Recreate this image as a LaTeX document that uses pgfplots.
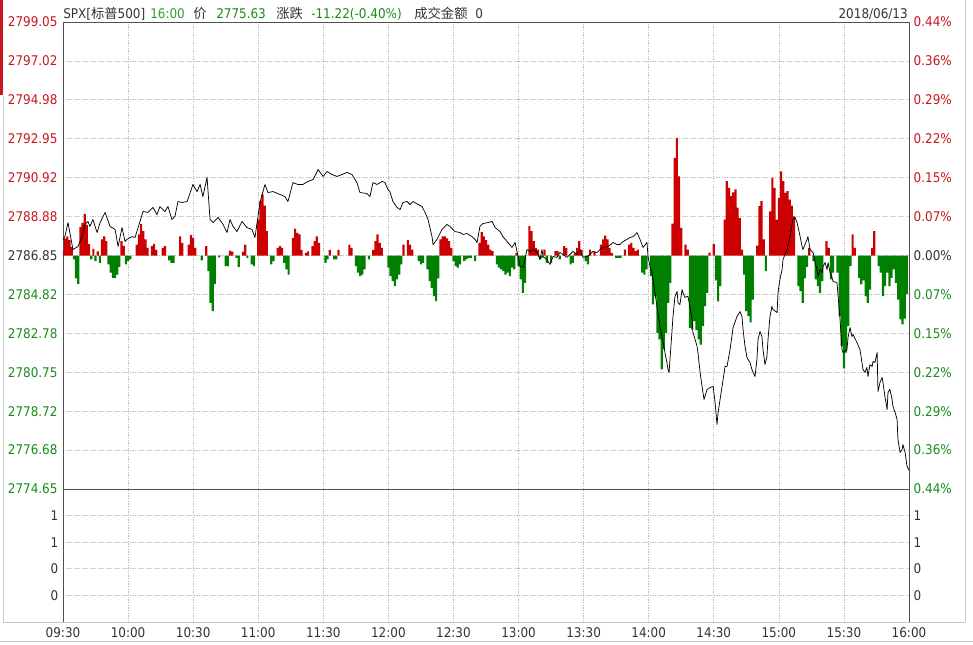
\documentclass[border=0pt]{standalone}
\usepackage{pgfplots}
\usepackage{pgfplotstable}
\pgfplotsset{compat=1.18}
\usepackage{fontspec}
\setmainfont{DejaVu Sans Condensed}
\newfontfamily\cjk{Noto Sans CJK SC}
\definecolor{cred}{HTML}{CC0000}
\definecolor{cgreen}{HTML}{008000}
\definecolor{tred}{HTML}{C8161E}
\definecolor{tgreen}{HTML}{1A8A1A}
\definecolor{hgreen}{HTML}{2E9E2E}
\definecolor{tdark}{HTML}{333333}
\definecolor{gridc}{HTML}{BEBEBE}
\definecolor{axc}{HTML}{505050}
\definecolor{framec}{HTML}{C8C8C8}

\pgfplotstableread{
m c
0 0.84
0.9 1.00
2.3 1.72
4.6 0.31
6.9 0.47
8.8 0.99
10.1 1.62
11.5 1.78
12.4 1.52
13.8 1.88
15.7 1.20
17.1 1.72
19.4 2.25
21.7 1.52
24.0 1.36
25.4 0.47
27.2 1.46
28.6 0.73
29.5 0.84
31.8 0.99
33.2 0.94
35.5 1.78
36.9 2.30
39.2 2.25
41.5 2.51
43.3 2.14
44.7 2.56
47.0 2.30
48.4 2.56
50.2 1.88
51.6 2.04
53.0 2.82
54.9 2.77
57.2 2.82
59.9 3.71
61.8 3.34
63.2 3.71
64.5 3.08
66.4 4.08
67.8 1.88
69.2 1.72
71.5 1.99
73.8 1.62
75.6 1.20
77.0 1.88
78.4 1.52
80.2 1.25
82.5 1.78
84.8 1.46
87.1 1.36
88.5 0.94
90.8 2.77
93.1 3.71
94.5 3.29
96.8 3.34
100.0 3.19
102.3 3.08
103.7 2.82
106.0 3.81
108.3 3.71
110.6 3.71
112.9 3.87
115.3 3.97
117.6 4.49
119.9 4.13
121.7 4.39
124.0 4.23
126.3 4.13
128.6 4.23
130.9 4.34
133.2 4.23
135.5 3.81
136.9 3.29
140.1 3.24
141.5 3.08
142.9 3.81
144.8 3.71
147.1 3.87
148.4 3.81
149.8 3.45
150.7 3.34
152.1 2.82
154.0 2.51
155.4 2.40
156.7 2.77
158.6 2.82
160.0 2.66
161.4 2.82
163.7 2.66
165.5 2.56
166.9 2.25
168.3 1.88
170.1 0.99
170.6 0.57
172.4 0.84
174.7 1.36
177.0 1.62
178.4 1.52
180.7 1.25
183.0 1.20
184.4 1.10
186.2 1.15
188.5 0.99
189.9 0.84
190.9 0.68
192.2 1.52
193.6 1.67
195.9 1.72
197.8 1.78
199.2 1.46
201.5 1.25
202.8 0.99
204.7 0.73
207.0 0.42
208.4 0.68
209.3 0.21
210.7 -0.57
212.1 -0.63
213.9 0.31
215.3 0.21
216.7 0.31
218.5 0.16
219.9 -0.21
220.8 0.31
221.3 -0.05
223.1 -0.21
224.5 -0.47
225.9 -0.05
227.7 -0.10
229.1 0.16
230.5 0.05
232.3 -0.10
233.7 0.05
235.1 0.21
237.0 0.05
238.3 0.31
239.7 -0.10
241.6 -0.05
242.9 0.05
244.3 0.21
246.2 0.16
247.6 0.31
248.9 0.42
251.2 0.47
253.6 0.68
255.4 0.57
256.8 0.57
258.2 0.73
260.0 0.84
261.4 0.94
262.8 0.99
264.6 1.20
266.0 0.84
267.4 0.42
269.2 0.68
269.7 -0.05
270.6 -0.57
271.5 -0.89
272.0 -1.25
273.8 -2.66
275.2 -3.71
276.1 -4.23
276.6 -4.49
277.5 -5.07
278.4 -5.59
278.9 -5.96
279.4 -6.11
279.8 -5.43
280.7 -4.02
281.2 -3.19
282.1 -2.14
283.1 -1.88
283.5 -2.46
284.4 -2.56
285.4 -1.78
285.8 -1.93
286.7 -2.19
287.7 -2.14
288.1 -2.14
289.0 -2.66
290.0 -3.34
290.4 -4.02
291.4 -4.39
292.3 -4.75
292.7 -5.07
293.7 -6.11
294.6 -6.84
295.5 -7.52
296.9 -7.00
298.3 -6.90
299.7 -6.84
300.6 -7.68
301.5 -8.83
302.0 -8.20
302.9 -7.52
304.3 -6.48
305.2 -5.80
306.1 -5.80
307.5 -4.91
308.9 -3.76
310.7 -3.19
312.1 -2.93
313.0 -3.19
313.5 -3.87
314.4 -4.75
315.3 -5.33
315.8 -5.43
316.7 -5.59
317.6 -5.96
318.1 -6.11
319.0 -6.32
319.9 -5.43
320.4 -4.39
321.3 -3.97
322.2 -4.23
322.7 -4.91
323.6 -5.70
324.5 -5.28
325.0 -4.39
325.9 -3.19
326.8 -2.66
327.3 -2.82
329.2 -2.98
329.6 -1.93
330.5 -1.25
331.5 -0.73
331.9 -0.21
333.8 0.31
335.1 0.99
336.5 1.88
337.5 1.99
338.4 1.72
339.8 0.99
340.7 0.47
341.1 0.31
343.0 0.84
343.4 0.99
344.4 0.31
345.8 0.16
346.7 -0.37
347.6 -0.73
348.1 -1.10
349.0 -0.73
349.9 -0.89
350.4 -0.57
351.3 -0.37
352.2 -0.73
352.7 -0.37
353.6 -0.89
354.5 -1.15
355.0 -1.36
356.8 -1.41
358.2 -3.34
359.1 -4.91
359.6 -5.07
361.4 -4.91
361.9 -4.28
362.8 -3.76
363.7 -4.23
364.2 -4.13
366.0 -4.55
367.4 -4.91
368.8 -5.96
369.7 -6.11
370.6 -5.85
371.1 -6.32
372.0 -5.70
373.0 -5.80
373.4 -5.54
374.3 -5.59
375.3 -5.07
375.7 -7.11
376.6 -6.64
377.6 -6.37
378.0 -6.64
378.9 -7.37
379.9 -8.05
380.3 -7.16
381.2 -7.00
382.2 -7.52
382.6 -7.89
383.6 -8.20
384.5 -8.57
384.9 -9.61
385.9 -10.29
386.8 -10.14
387.2 -9.88
388.2 -10.29
389.1 -11.02
390 -11.22
}\pricetab

\pgfplotstableread{
m v
0 0.3
1 0.9
2 1.0
3 0.8
4 0.45
8 1.5
9 1.7
10 2.18
11 1.6
12 0.6
14 0.35
16 0.22
18 0.84
19 1.0
20 0.75
27 0.75
28 0.5
34 0.57
35 1.1
36 1.65
37 1.27
38 0.84
39 0.4
41 0.49
42 0.61
43 0.3
46 0.4
47 0.49
54 1.0
55 0.66
58 0.57
59 1.06
60 0.92
61 0.4
66 0.49
77 0.26
78 0.2
83 0.2
84 0.57
90 1.88
91 2.84
92 3.2
93 2.6
94 1.27
99 0.4
100 0.49
101 0.4
106 0.92
107 1.4
108 1.18
109 1.1
110 0.3
112 0.14
113 0.22
115 0.49
116 0.75
117 1.0
118 0.66
123 0.3
127 0.3
132 0.57
133 0.4
143 0.3
144 0.75
145 1.1
146 0.66
147 0.4
157 0.57
159 0.8
160 0.57
161 0.31
174 0.84
175 1.0
176 1.0
177 0.9
178 0.75
179 0.4
192 0.66
193 1.22
194 1.0
195 0.8
196 0.57
197 0.31
198 0.23
209 0.14
215 1.53
216 1.27
217 0.75
218 0.4
219 0.31
222 0.31
227 0.23
228 0.23
231 0.49
232 0.4
236 0.14
237 0.4
238 0.75
239 0.31
243 0.31
245 0.2
248 0.57
249 0.84
250 1.04
251 0.84
252 0.4
253 0.14
259 0.31
261 0.57
262 0.66
263 0.4
264 0.23
265 0.31
281 1.67
282 5.1
283 6.14
284 4.14
285 1.44
287 0.57
288 0.31
298 0.15
300 0.6
305 1.88
306 3.88
307 3.53
308 3.1
309 3.3
310 3.45
311 2.5
312 1.97
313 0.31
320 0.52
321 2.58
322 2.84
323 0.84
326 2.31
327 4.05
328 3.53
329 1.88
330 3.0
331 4.4
332 3.88
333 3.27
334 3.36
335 2.92
336 2.6
337 2.05
344 0.4
352 0.75
353 0.4
364 1.1
365 0.4
373 0.4
374 1.27
}\redtab

\pgfplotstableread{
m v
5 -0.2
6 -1.2
7 -1.48
13 -0.2
15 -0.3
17 -0.38
21 -0.47
22 -0.9
23 -1.17
24 -1.17
25 -1.0
26 -0.6
29 -0.47
30 -0.3
31 -0.2
49 -0.26
50 -0.38
51 -0.38
64 -0.26
67 -0.82
68 -2.47
69 -2.9
70 -1.5
72 -0.1
75 -0.55
76 -0.55
80 -0.12
81 -0.6
85 -0.12
87 -0.47
88 -0.55
96 -0.47
97 -0.3
102 -0.38
103 -0.73
104 -1.0
121 -0.38
122 -0.2
125 -0.2
126 -0.2
135 -0.55
136 -0.9
137 -1.08
138 -1.0
139 -0.73
141 -0.2
150 -0.64
151 -1.08
152 -1.34
153 -1.6
154 -1.25
155 -1.0
156 -0.47
164 -0.3
165 -0.47
166 -0.38
168 -0.73
169 -1.34
170 -1.69
171 -2.12
172 -2.38
173 -1.2
180 -0.3
181 -0.56
182 -0.64
183 -0.47
185 -0.3
186 -0.2
187 -0.12
188 -0.12
190 -0.3
200 -0.47
201 -0.64
202 -0.73
203 -0.82
204 -1.0
205 -0.9
206 -1.08
207 -0.64
208 -0.73
210 -0.56
211 -1.25
212 -1.95
213 -1.43
220 -0.2
221 -0.12
223 -0.38
225 -0.38
229 -0.2
234 -0.47
235 -0.38
241 -0.3
242 -0.47
255 -0.12
256 -0.12
257 -0.12
267 -0.9
268 -1.0
269 -0.73
271 -1.08
272 -2.56
273 -2.12
274 -4.04
275 -4.38
276 -5.95
277 -4.9
278 -4.04
279 -2.47
280 -1.43
289 -3.78
290 -3.86
291 -3.43
292 -3.9
293 -4.38
294 -4.65
295 -3.69
296 -2.64
297 -1.95
301 -1.3
302 -2.4
303 -1.6
314 -1.0
315 -2.9
316 -3.17
317 -3.5
318 -2.3
324 -0.82
339 -1.6
340 -1.86
341 -2.47
342 -1.2
343 -0.6
346 -0.3
347 -1.25
348 -1.6
349 -1.95
350 -1.34
354 -1.25
355 -0.9
357 -0.9
358 -3.17
359 -4.73
360 -5.9
361 -5.08
362 -3.69
363 -0.56
367 -1.17
368 -1.51
369 -1.3
370 -2.12
371 -2.47
372 -1.78
376 -0.56
377 -0.9
378 -2.12
379 -1.6
380 -0.9
381 -1.6
382 -1.17
383 -0.73
384 -1.43
385 -2.3
386 -3.34
387 -3.6
388 -3.3
389 -2.0
}\greentab

\begin{document}
\begin{tikzpicture}
\useasboundingbox (0,0) rectangle (729.75pt,483pt);
\pgfplotsset{
  chartbase/.style={
    scale only axis, width=634.5pt, anchor=south west,
    xmin=0, xmax=390,
    xtick={0,30,...,390},
    major tick length=0pt,
    grid=major,
    grid style={gridc, dash pattern=on 1pt off 1pt, line width=0.5pt},
    axis line style={axc, line width=0.6pt},
    tick label style={font=\fontsize{10}{12}\selectfont, text=tdark},
  }
}
% upper panel
\begin{axis}[chartbase, at={(47.25pt,116.25pt)}, height=350.25pt,
  ymin=-12.2, ymax=12.2,
  xticklabels={},
  ytick={-12.2,-10.16667,-8.13333,-6.1,-4.06667,-2.03333,0,2.03333,4.06667,6.1,8.13333,10.16667,12.2},
  yticklabels={{\textcolor{tgreen}{2774.65}},{\textcolor{tgreen}{2776.68}},{\textcolor{tgreen}{2778.72}},{\textcolor{tgreen}{2780.75}},{\textcolor{tgreen}{2782.78}},{\textcolor{tgreen}{2784.82}},{\textcolor{tdark}{2786.85}},{\textcolor{tred}{2788.88}},{\textcolor{tred}{2790.92}},{\textcolor{tred}{2792.95}},{\textcolor{tred}{2794.98}},{\textcolor{tred}{2797.02}},{\textcolor{tred}{2799.05}}},
  yticklabel style={xshift=-0.6pt},
]
\addplot[ybar, bar shift=0pt, bar width=1.0, fill=cred, draw=none] table[x=m,y=v]{\redtab};
\addplot[ybar, bar shift=0pt, bar width=1.0, fill=cgreen, draw=none] table[x=m,y=v]{\greentab};
\addplot[black, line width=0.55pt, line join=round] table[x=m,y=c]{\pricetab};
\end{axis}
% right-side percent labels
\begin{axis}[scale only axis, width=634.5pt, height=350.25pt, anchor=south west, at={(47.25pt,116.25pt)},
  xmin=0, xmax=390, ymin=-12.2, ymax=12.2,
  axis y line*=right, axis x line=none,
  major tick length=0pt,
  axis line style={axc, line width=0.6pt},
  tick label style={font=\fontsize{10}{12}\selectfont},
  ytick={-12.2,-10.16667,-8.13333,-6.1,-4.06667,-2.03333,0,2.03333,4.06667,6.1,8.13333,10.16667,12.2},
  yticklabels={{\textcolor{tgreen}{0.44\%}},{\textcolor{tgreen}{0.36\%}},{\textcolor{tgreen}{0.29\%}},{\textcolor{tgreen}{0.22\%}},{\textcolor{tgreen}{0.15\%}},{\textcolor{tgreen}{0.07\%}},{\textcolor{tdark}{0.00\%}},{\textcolor{tred}{0.07\%}},{\textcolor{tred}{0.15\%}},{\textcolor{tred}{0.22\%}},{\textcolor{tred}{0.29\%}},{\textcolor{tred}{0.36\%}},{\textcolor{tred}{0.44\%}}},
]
\end{axis}
% lower panel
\begin{axis}[chartbase, at={(47.25pt,16.5pt)}, height=99.75pt,
  ymin=0, ymax=5,
  ytick={1,2,3,4}, yticklabels={0,0,1,1},
  xticklabels={09:30,10:00,10:30,11:00,11:30,12:00,12:30,13:00,13:30,14:00,14:30,15:00,15:30,16:00},
  xticklabel style={yshift=-1pt},
]
\end{axis}
\begin{axis}[scale only axis, width=634.5pt, height=99.75pt, anchor=south west, at={(47.25pt,16.5pt)},
  xmin=0, xmax=390, ymin=0, ymax=5,
  axis y line*=right, axis x line=none,
  major tick length=0pt,
  axis line style={axc, line width=0.6pt},
  tick label style={font=\fontsize{10}{12}\selectfont, text=tdark},
  ytick={1,2,3,4}, yticklabels={0,0,1,1},
]
\end{axis}
% window frame details
\draw[framec, line width=0.75pt] (2.25pt,16.5pt) -- (723.75pt,16.5pt);
\draw[framec, line width=0.75pt] (0pt,2.25pt) -- (729.75pt,2.25pt);
\draw[framec, line width=0.75pt] (2.25pt,16.5pt) -- (2.25pt,411pt);
\draw[framec, line width=0.75pt] (723.75pt,16.5pt) -- (723.75pt,483pt);
\fill[tred] (0,411.75pt) rectangle (2.6pt,483pt);
% header
\begin{scope}[every node/.style={inner sep=0pt, anchor=base west, font=\fontsize{10}{12}\selectfont}]
\node[text=tdark] at (47.25pt,469pt) {SPX[{\cjk 标普}500]};
\node[text=hgreen] at (112.5pt,469pt) {16:00};
\node[text=tdark] at (144.75pt,469pt) {\cjk 价};
\node[text=tgreen] at (162pt,469pt) {2775.63};
\node[text=tdark] at (207pt,469pt) {\cjk 涨跌};
\node[text=tgreen] at (233.25pt,469pt) {-11.22(-0.40\%)};
\node[text=tdark] at (310.5pt,469pt) {\cjk 成交金额};
\node[text=tdark] at (356.25pt,469pt) {0};
\node[text=tdark, anchor=base east] at (681pt,469pt) {2018/06/13};
\end{scope}
\end{tikzpicture}
\end{document}
